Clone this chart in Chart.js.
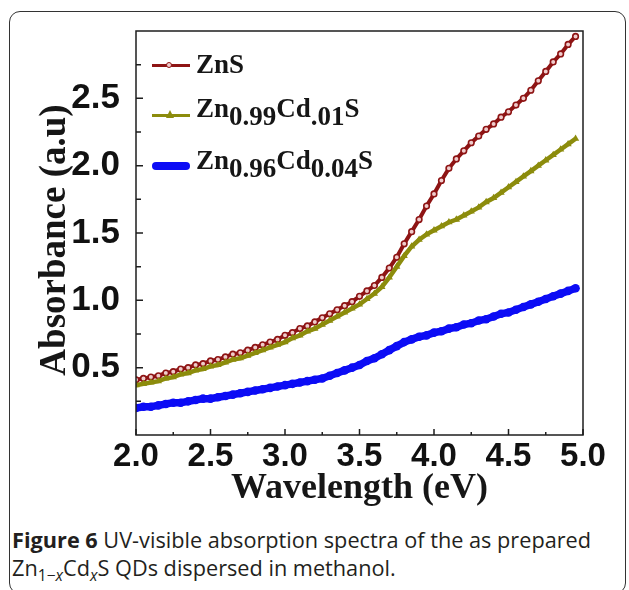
<!DOCTYPE html>
<html>
<head>
<meta charset="utf-8">
<script src="https://cdn.jsdelivr.net/npm/chart.js@4.4.1/dist/chart.umd.min.js"></script>
<style>
  html, body { margin: 0; padding: 0; background: #fff; }
  body { width: 629px; height: 590px; position: relative; overflow: hidden; }
  #box { position: absolute; left: 9px; top: 11px; width: 617px; height: 583px; border: 1.5px solid #333; border-radius: 11px; box-sizing: border-box; }
  #chart { position: absolute; left: 0; top: 0; }
  .leg { position: absolute; left: 196px; font-family: 'Liberation Serif', 'Times New Roman', serif; font-weight: bold; font-size: 27px; line-height: 27px; color: #161616; white-space: nowrap; }
  .leg sub { font-size: 1em; vertical-align: -8px; line-height: 0; }
  .sw { position: absolute; left: 152px; width: 38px; }
  #caption { position: absolute; left: 12px; top: 526px; font-family: 'Open Sans', sans-serif; font-size: 21.7px; line-height: 28px; color: #231f20; white-space: nowrap; }
  #caption sub { font-size: 0.72em; line-height: 0; }
</style>
</head>
<body>
<div id="box"></div>
<canvas id="chart" width="629" height="515"></canvas>
<div id="legend"></div>
<div id="caption"><b>Figure 6</b> UV-visible absorption spectra of the as prepared<br>Zn<sub>1−<i>x</i></sub>Cd<sub><i>x</i></sub>S QDs dispersed in methanol.</div>
<script>
// photon energy (eV)
const energies = [
  2.00, 2.05, 2.10, 2.15, 2.20, 2.25, 2.30, 2.35, 2.40, 2.45,
  2.50, 2.55, 2.60, 2.65, 2.70, 2.75, 2.80, 2.85, 2.90, 2.95,
  3.00, 3.05, 3.10, 3.15, 3.20, 3.25, 3.30, 3.35, 3.40, 3.45,
  3.50, 3.55, 3.60, 3.65, 3.70, 3.75, 3.80, 3.85, 3.90, 3.95,
  4.00, 4.05, 4.10, 4.15, 4.20, 4.25, 4.30, 4.35, 4.40, 4.45,
  4.50, 4.55, 4.60, 4.65, 4.70, 4.75, 4.80, 4.85, 4.90, 4.95
];
const absZnS = [
  0.41, 0.42, 0.43, 0.44, 0.46, 0.47, 0.49, 0.50, 0.52, 0.53,
  0.55, 0.56, 0.58, 0.60, 0.61, 0.63, 0.65, 0.67, 0.69, 0.71,
  0.74, 0.76, 0.79, 0.81, 0.84, 0.87, 0.90, 0.93, 0.96, 0.99,
  1.03, 1.07, 1.11, 1.17, 1.24, 1.32, 1.42, 1.51, 1.60, 1.70,
  1.79, 1.89, 1.98, 2.05, 2.11, 2.17, 2.22, 2.27, 2.31, 2.36,
  2.40, 2.45, 2.50, 2.56, 2.63, 2.70, 2.77, 2.83, 2.90, 2.96
];
const absCd01 = [
  0.37, 0.38, 0.39, 0.40, 0.42, 0.43, 0.45, 0.46, 0.48, 0.49,
  0.51, 0.52, 0.54, 0.56, 0.57, 0.59, 0.61, 0.63, 0.65, 0.67,
  0.69, 0.72, 0.74, 0.77, 0.79, 0.82, 0.85, 0.88, 0.91, 0.94,
  0.97, 1.01, 1.05, 1.10, 1.17, 1.25, 1.33, 1.40, 1.45, 1.49,
  1.52, 1.55, 1.58, 1.60, 1.63, 1.66, 1.69, 1.73, 1.76, 1.80,
  1.84, 1.88, 1.92, 1.96, 2.00, 2.04, 2.08, 2.12, 2.16, 2.20
];
const absCd04 = [
  0.20, 0.21, 0.21, 0.22, 0.23, 0.24, 0.24, 0.25, 0.26, 0.27,
  0.27, 0.28, 0.29, 0.30, 0.31, 0.32, 0.33, 0.34, 0.35, 0.36,
  0.37, 0.38, 0.39, 0.40, 0.41, 0.42, 0.44, 0.46, 0.48, 0.50,
  0.52, 0.55, 0.57, 0.60, 0.63, 0.66, 0.69, 0.71, 0.73, 0.74,
  0.76, 0.77, 0.79, 0.80, 0.82, 0.83, 0.85, 0.86, 0.88, 0.90,
  0.91, 0.93, 0.95, 0.97, 0.99, 1.01, 1.03, 1.05, 1.07, 1.09
];
const seriesNames = ['ZnS', 'Zn0.99Cd.01S', 'Zn0.96Cd0.04S'];
const legendHtml = ['ZnS', 'Zn<sub>0.99</sub>Cd<sub>.01</sub>S', 'Zn<sub>0.96</sub>Cd<sub>0.04</sub>S'];
const xTicks = [2.0, 2.5, 3.0, 3.5, 4.0, 4.5, 5.0];
const yTicks = [0.5, 1.0, 1.5, 2.0, 2.5];
const yTitle = 'Absorbance (a.u)';

const RED = '#8e1414';
const OLIVE = '#8c8c0c';
const BLUE = '#0c0cf5';

function pts(ys) {
  return energies.map((e, i) => ({ x: e, y: ys[i] }));
}

// frame, inward tick marks and the y title
const frameTicks = {
  id: 'frameTicks',
  afterDraw(chart) {
    const { ctx, chartArea: a, scales: { x, y } } = chart;
    ctx.save();
    ctx.strokeStyle = '#1e1e1e';
    ctx.lineWidth = 1.5;
    ctx.strokeRect(a.left, a.top, a.right - a.left, a.bottom - a.top);
    ctx.beginPath();
    x.ticks.forEach(t => {
      const p = x.getPixelForValue(t.value);
      ctx.moveTo(p, a.bottom); ctx.lineTo(p, a.bottom - 6);
      const m = x.getPixelForValue(t.value + 0.25);
      if (m < a.right - 2) { ctx.moveTo(m, a.bottom); ctx.lineTo(m, a.bottom - 3); }
    });
    y.ticks.forEach((t, i) => {
      const p = y.getPixelForValue(t.value);
      ctx.moveTo(a.left, p); ctx.lineTo(a.left + 7, p);
      [t.value - 0.25, t.value + 0.25].forEach(v => {
        if (i > 0 && v < t.value) return;
        const m = y.getPixelForValue(v);
        ctx.moveTo(a.left, m); ctx.lineTo(a.left + 5, m);
      });
    });
    ctx.stroke();

    ctx.translate(55, (a.top + a.bottom) / 2 + 7);
    ctx.rotate(-Math.PI / 2);
    ctx.font = "bold 37px 'Liberation Serif', 'Times New Roman', serif";
    ctx.fillStyle = '#161616';
    ctx.textAlign = 'center';
    ctx.textBaseline = 'middle';
    ctx.fillText(yTitle, 0, 0);
    ctx.restore();
  }
};

new Chart(document.getElementById('chart'), {
  type: 'line',
  data: {
    datasets: [
      {
        label: seriesNames[0], data: pts(absZnS), order: 1,
        borderColor: RED, borderWidth: 4,
        pointStyle: 'circle', pointRadius: 2.8, pointBorderWidth: 1.6,
        pointBorderColor: RED, pointBackgroundColor: '#f0cccc'
      },
      {
        label: seriesNames[1], data: pts(absCd01), order: 0,
        borderColor: OLIVE, borderWidth: 4.5,
        pointStyle: 'triangle', pointRadius: 4.2, pointBorderWidth: 0,
        pointBackgroundColor: OLIVE
      },
      {
        label: seriesNames[2], data: pts(absCd04), order: 2,
        borderColor: BLUE, borderWidth: 7.5,
        pointStyle: 'circle', pointRadius: 4.3, pointBorderWidth: 0,
        pointBackgroundColor: BLUE
      }
    ]
  },
  options: {
    responsive: false,
    animation: false,
    devicePixelRatio: 1,
    layout: { padding: { top: 31, right: 46, left: 0, bottom: 0 } },
    plugins: { legend: { display: false }, tooltip: { enabled: false } },
    elements: { line: { tension: 0 } },
    scales: {
      x: {
        type: 'linear', min: 2, max: 5,
        afterBuildTicks: s => { s.ticks = xTicks.map(v => ({ value: v })); },
        afterFit: s => { s.height = 80; },
        grid: { display: false }, border: { display: false },
        ticks: {
          padding: -6, maxRotation: 0, autoSkip: false, color: '#111',
          font: { family: "'Liberation Sans', Arial, sans-serif", weight: 'bold', size: 33 },
          callback: v => v.toFixed(1)
        },
        title: {
          display: true, text: 'Wavelength (eV)', color: '#161616',
          font: { family: "'Liberation Serif', 'Times New Roman', serif", weight: 'bold', size: 36, lineHeight: 1 },
          padding: { top: 0, bottom: 8 }
        }
      },
      y: {
        min: 0, max: 3,
        afterBuildTicks: s => { s.ticks = yTicks.map(v => ({ value: v })); },
        afterFit: s => { s.width = 136; },
        grid: { display: false }, border: { display: false },
        ticks: {
          padding: 8, color: '#111',
          font: { family: "'Liberation Sans', Arial, sans-serif", weight: 'bold', size: 35 },
          callback: v => v.toFixed(1)
        },
        title: { display: false }
      }
    }
  },
  plugins: [frameTicks]
});

// legend with subscripts (HTML)
const legendEl = document.getElementById('legend');
const legY = [65, 115, 166];
const legBase = [74, 118, 170];
const swatches = [
  `<div class="sw" style="top:${legY[0] - 1.5}px;height:3px;background:${RED}"></div>
   <div style="position:absolute;left:166px;top:${legY[0] - 3}px;width:6px;height:6px;border-radius:50%;background:#f0cccc;border:1px solid ${RED};box-sizing:border-box"></div>`,
  `<div class="sw" style="top:${legY[1] - 1.5}px;height:3px;background:${OLIVE}"></div>
   <div style="position:absolute;left:166px;top:${legY[1] - 5}px;width:0;height:0;border-left:4px solid transparent;border-right:4px solid transparent;border-bottom:8px solid ${OLIVE}"></div>`,
  `<div class="sw" style="top:${legY[2] - 4}px;height:8px;border-radius:4px;background:${BLUE}"></div>`
];
legendHtml.forEach((h, i) => {
  legendEl.insertAdjacentHTML('beforeend', swatches[i] +
    `<div class="leg" style="top:${legBase[i] - 22.6}px">${h}</div>`);
});
</script>
</body>
</html>
